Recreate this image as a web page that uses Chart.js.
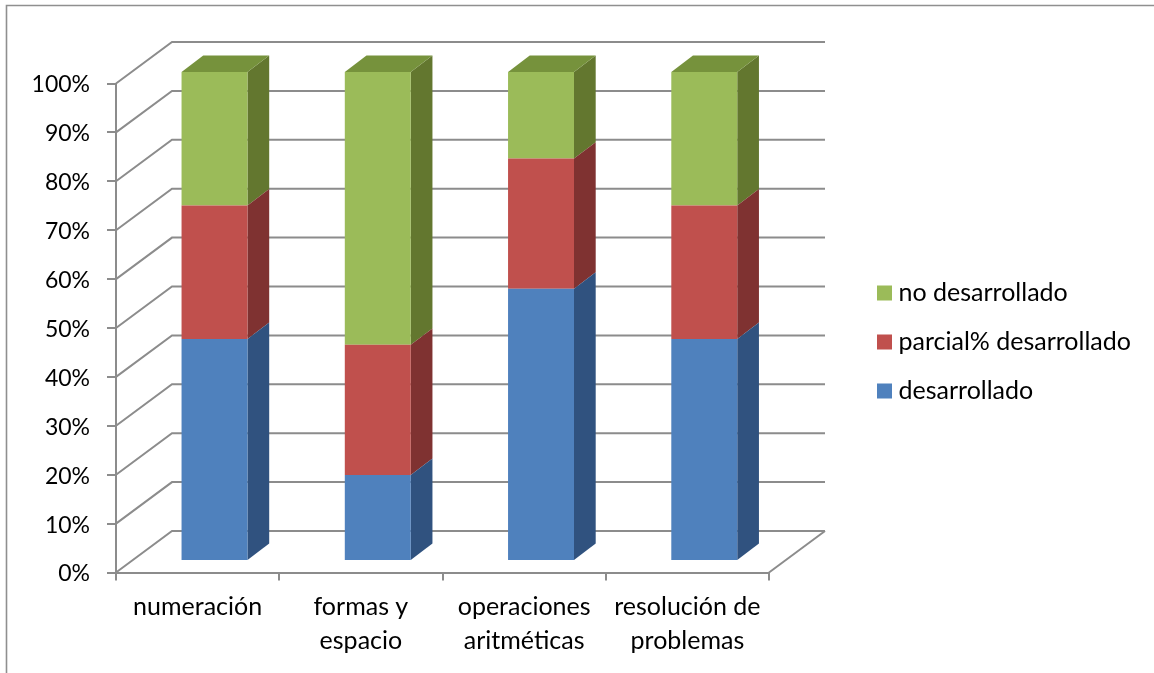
<!DOCTYPE html>
<html><head><meta charset="utf-8">
<style>html,body{margin:0;padding:0;background:#fff}canvas{display:block}</style>
<script src="https://cdn.jsdelivr.net/npm/chart.js@4"></script></head>
<body><canvas id="c" width="1154" height="673"></canvas>
<script>
const categories = [["numeración"],["formas y","espacio"],["operaciones","aritméticas"],["resolución de","problemas"]];
const desarrollado = [45.4, 17.6, 55.7, 45.4];
const parcial = [27.3, 26.6, 26.6, 27.3];
const noDesarrollado = [27.3, 55.8, 17.7, 27.3];
const yTicks = [0,10,20,30,40,50,60,70,80,90,100];

const GRAY = '#8c8c8c';
const FONT = 'Lato, Carlito, sans-serif';
const wall = {dx:56, dy:41.5, right:825};
const barShift = {x:16.9, y:11.5};
const depth = {x:21.7, y:16.4};
const sideColors = ['#30527f','#7f3231','#63772f'];
const topColors = ['#3d6596','#983f3d','#76923c'];

const scene = {
  id:'scene',
  beforeDraw(chart){
    const c = chart.ctx;
    c.save(); c.strokeStyle='#8f8f8f'; c.lineWidth=1.6;
    c.beginPath(); c.moveTo(1154,5.5); c.lineTo(6.5,5.5); c.lineTo(6.5,673); c.stroke();
    c.restore();
  },
  beforeDatasetsDraw(chart){
    const c = chart.ctx, y = chart.scales.y, a = chart.chartArea;
    c.save(); c.strokeStyle=GRAY; c.lineWidth=2;
    yTicks.forEach(v=>{
      const p = y.getPixelForValue(v);
      c.beginPath(); c.moveTo(a.left,p); c.lineTo(a.left+wall.dx,p-wall.dy); c.lineTo(wall.right,p-wall.dy); c.stroke();
    });
    const b = y.getPixelForValue(0);
    c.beginPath(); c.moveTo(a.right,b); c.lineTo(wall.right,b-wall.dy); c.stroke();
    c.restore();
  },
  beforeDatasetDraw(chart,args){
    const c = chart.ctx, last = chart.data.datasets.length-1;
    c.save();
    chart.getDatasetMeta(args.index).data.forEach(el=>{
      const p = el.getProps(['x','y','base','width'],true);
      const r = p.x+p.width/2, l = p.x-p.width/2;
      const X = r+barShift.x, L = l+barShift.x, T = p.y-barShift.y, B = p.base-barShift.y;
      c.fillStyle = sideColors[args.index];
      c.beginPath(); c.moveTo(X,T); c.lineTo(X+depth.x,T-depth.y); c.lineTo(X+depth.x,B-depth.y); c.lineTo(X,B); c.closePath(); c.fill();
      if(args.index===last){
        c.fillStyle = topColors[args.index];
        c.beginPath(); c.moveTo(L,T); c.lineTo(L+depth.x,T-depth.y); c.lineTo(X+depth.x,T-depth.y); c.lineTo(X,T); c.closePath(); c.fill();
      }
    });
    c.translate(barShift.x,-barShift.y);
  },
  afterDatasetDraw(chart){ chart.ctx.restore(); },
  afterLayout(chart){
    const lg = chart.legend;
    lg.left = 859; lg.top = 256.5; lg.right = 1154; lg.bottom = 660;
  }
};

new Chart(document.getElementById('c'),{
  type:'bar',
  data:{labels:categories,datasets:[
    {label:'desarrollado',data:desarrollado,backgroundColor:'#4f81bd'},
    {label:'parcial% desarrollado',data:parcial,backgroundColor:'#c0504d'},
    {label:'no desarrollado',data:noDesarrollado,backgroundColor:'#9bbb59'}
  ]},
  options:{
    responsive:false,animation:false,events:[],
    layout:{padding:{left:0,top:83.5,right:385,bottom:0.5}},
    datasets:{bar:{barPercentage:0.404,categoryPercentage:1}},
    plugins:{
      tooltip:{enabled:false},
      legend:{position:'chartArea',align:'start',reverse:true,
        labels:{color:'#000',font:{family:FONT,size:25},usePointStyle:true,pointStyle:'rect',boxWidth:3,boxHeight:15,padding:24}}
    },
    scales:{
      x:{stacked:true,afterFit(s){s.height=100;},
        border:{color:GRAY,width:2},
        grid:{offset:true,drawOnChartArea:false,color:GRAY,lineWidth:2,tickLength:8},
        ticks:{color:'#000',font:{family:FONT,size:25,lineHeight:1.36},padding:9,maxRotation:0,autoSkip:false}},
      y:{stacked:true,min:0,max:100,afterFit(s){s.width=116;},
        border:{color:GRAY,width:2},
        grid:{drawOnChartArea:false,color:GRAY,lineWidth:2,tickLength:9},
        afterBuildTicks(s){s.ticks=yTicks.map(v=>({value:v}));},
        ticks:{color:'#000',font:{family:FONT,size:23},padding:17,labelOffset:1.5,callback:v=>v+'%'}}
    }
  },
  plugins:[scene]
});
</script></body></html>
